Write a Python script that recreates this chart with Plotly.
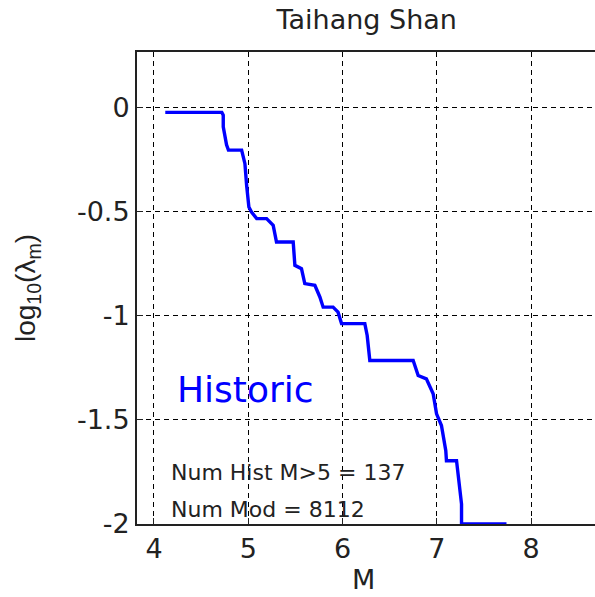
import plotly.graph_objects as go

# Cumulative annual rate curve: magnitude vs log10 of rate of exceedance
magnitude = [4.12, 4.72, 4.735, 4.735, 4.77, 4.79, 4.93, 4.965, 4.983, 5.007,
             5.035, 5.09, 5.195, 5.265, 5.30, 5.477, 5.495, 5.565, 5.60, 5.707,
             5.76, 5.795, 5.90, 5.953, 5.99, 6.237, 6.262, 6.29, 6.75, 6.803,
             6.89, 6.962, 6.998, 7.05, 7.096, 7.103, 7.21, 7.238, 7.263, 7.263,
             7.74]
log_rate = [-0.024, -0.024, -0.037, -0.093, -0.18, -0.205, -0.205, -0.27, -0.374, -0.478,
            -0.502, -0.534, -0.534, -0.566, -0.646, -0.646, -0.758, -0.774, -0.846, -0.854,
            -0.91, -0.959, -0.959, -0.983, -1.038, -1.038, -1.095, -1.215, -1.215, -1.287,
            -1.303, -1.375, -1.471, -1.527, -1.648, -1.696, -1.696, -1.80, -1.904, -2.0,
            -2.0]

x_ticks = [4, 5, 6, 7, 8]
y_ticks = [0, -0.5, -1, -1.5, -2]
y_tick_text = ["0", "-0.5", "-1", "-1.5", "-2"]

region = "Taihang Shan"
num_hist = 137
num_mod = 8112

FONT = "DejaVu Sans"
INK = "#222222"

fig = go.Figure()
fig.add_trace(go.Scatter(
    x=magnitude, y=log_rate, mode="lines",
    line=dict(color="#0000ff", width=3.4),
    showlegend=False, hoverinfo="skip",
))

fig.add_annotation(x=4.225, y=-1.354, xref="x", yref="y", text="Historic",
                   showarrow=False, xanchor="left", yanchor="middle",
                   font=dict(family=FONT, size=36, color="#0000ff"))
fig.add_annotation(x=4.16, y=-1.753, xref="x", yref="y",
                   text=f"Num Hist M>5 = {num_hist}",
                   showarrow=False, xanchor="left", yanchor="middle",
                   font=dict(family=FONT, size=22, color=INK))
fig.add_annotation(x=4.16, y=-1.931, xref="x", yref="y",
                   text=f"Num Mod = {num_mod}",
                   showarrow=False, xanchor="left", yanchor="middle",
                   font=dict(family=FONT, size=22, color=INK))

# x-axis label placed below the tick labels, its box resting on the page bottom
fig.add_annotation(x=0.4956, y=-0.1545, xref="paper", yref="paper", text="M",
                   showarrow=False, xanchor="center", yanchor="bottom",
                   font=dict(family=FONT, size=27, color=INK))

grid_dash = "5px,4px"

fig.update_layout(
    width=595, height=597,
    margin=dict(l=137, r=0, t=52, b=73),
    paper_bgcolor="white", plot_bgcolor="white",
    font=dict(family=FONT, size=27, color=INK),
    title=dict(text=region, x=366.7 / 595, xanchor="center", xref="container",
               y=1 - 20 / 597, yanchor="middle", yref="container",
               font=dict(family=FONT, size=27, color=INK)),
    xaxis=dict(
        range=[3.82, 8.679], tickvals=x_ticks, ticktext=[str(v) for v in x_ticks],
        showgrid=True, gridcolor="black", gridwidth=1, griddash=grid_dash,
        zeroline=False, showline=True, linecolor=INK, linewidth=2,
        mirror=True, ticks="inside", ticklen=6, tickcolor=INK,
        tickfont=dict(family=FONT, size=27, color=INK),
    ),
    yaxis=dict(
        range=[-2.0, 0.266], tickvals=y_ticks, ticktext=y_tick_text,
        showgrid=True, gridcolor="black", gridwidth=1, griddash=grid_dash,
        zeroline=False, showline=True, linecolor=INK, linewidth=2,
        mirror=False, ticks="inside", ticklen=6, tickcolor=INK,
        tickfont=dict(family=FONT, size=27, color=INK),
        title=dict(text="log<sub>10</sub>(λ<sub>m</sub>)", standoff=33,
                   font=dict(family="Liberation Sans", size=28, color=INK)),
    ),
)

fig.write_html("out.html")
